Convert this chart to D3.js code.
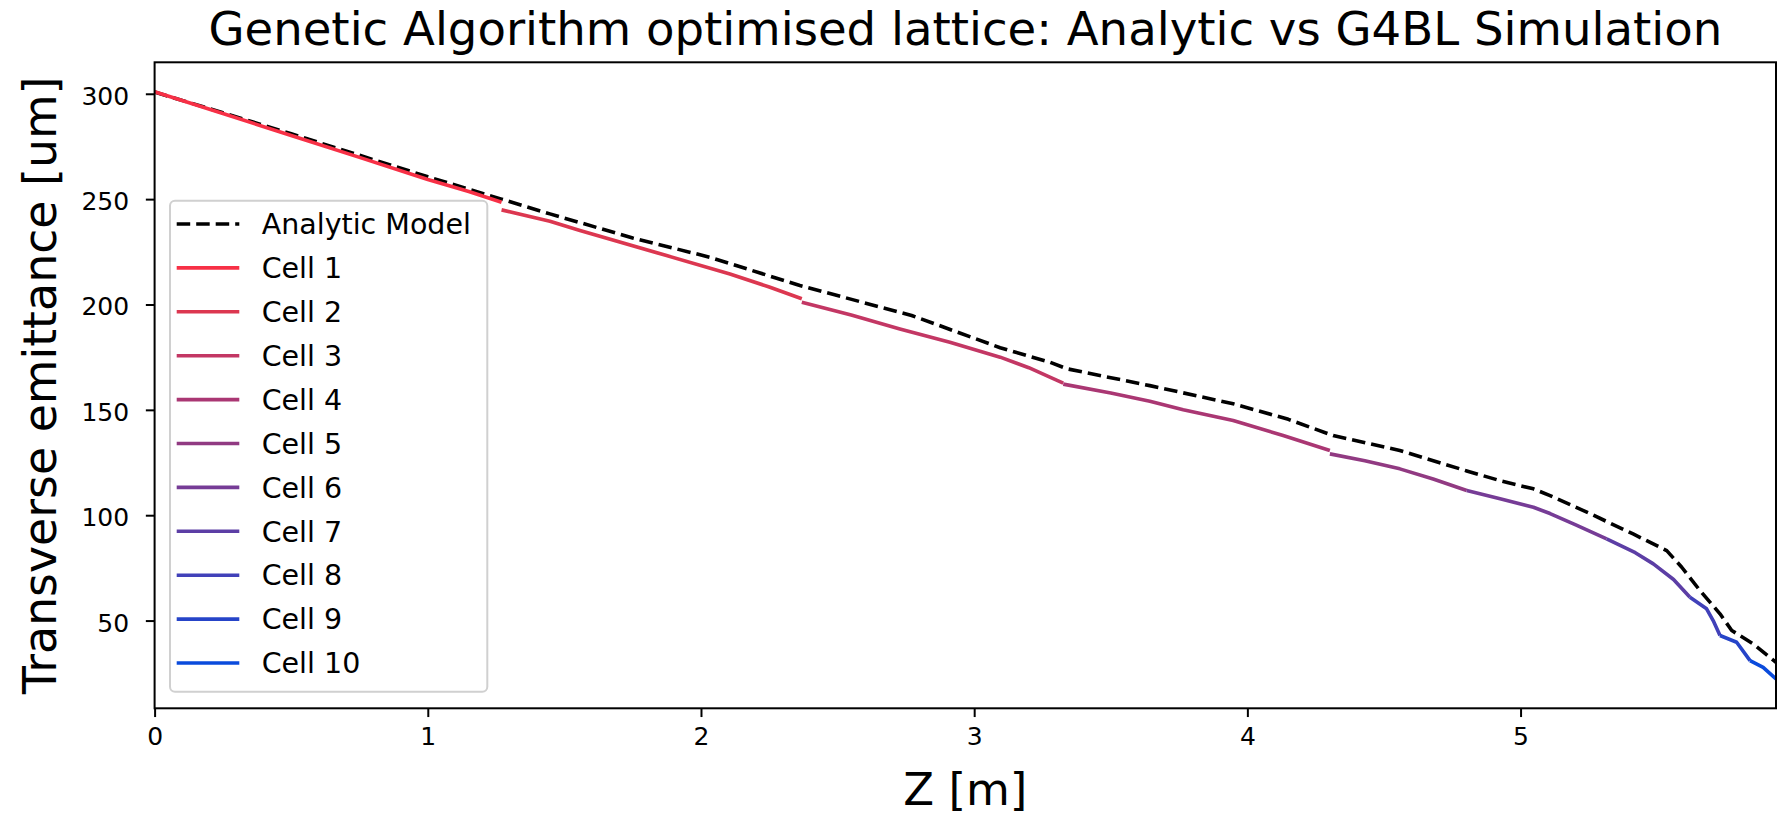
<!DOCTYPE html>
<html>
<head>
<meta charset="utf-8">
<script src="https://cdn.jsdelivr.net/npm/d3@7"></script>
<style>
  html, body { margin: 0; padding: 0; background: #ffffff; }
  svg { display: block; }
  text { font-family: "DejaVu Sans", sans-serif; fill: #000; }
</style>
</head>
<body>
<svg id="chart" width="1779" height="816"></svg>
<script>
// ---------------- data ----------------
const titleText = "Genetic Algorithm optimised lattice: Analytic vs G4BL Simulation";
const xLabel = "Z [m]";
const yLabel = "Transverse emittance [um]";
const xTicks = [0, 1, 2, 3, 4, 5];
const yTicks = [50, 100, 150, 200, 250, 300];
const xMax = 5.935;

const analyticName = "Analytic Model";
const analyticZ = [0, 0.25, 0.5, 0.75, 1.0, 1.27, 1.447, 1.75, 2.033, 2.362, 2.771, 3.095, 3.277, 3.339, 3.643, 3.948, 4.15, 4.314, 4.558, 4.803, 4.925, 5.047, 5.108, 5.25, 5.412, 5.535, 5.59, 5.657, 5.730, 5.773, 5.852, 5.935];
const analyticEm = [300.8, 291.0, 281.0, 270.8, 260.6, 250.0, 243.0, 231.6, 222.4, 209.0, 194.8, 179.5, 172.6, 169.5, 161.5, 152.9, 145.5, 137.8, 130.7, 121.0, 116.4, 112.5, 109.3, 101.0, 91.1, 83.2, 75.3, 64.2, 53.2, 45.3, 38.9, 30.2];

const cellNames = ["Cell 1", "Cell 2", "Cell 3", "Cell 4", "Cell 5", "Cell 6", "Cell 7", "Cell 8", "Cell 9", "Cell 10"];
const cellColors = ["#f73046", "#dc3750", "#c33764", "#aa3773", "#913a82", "#763c96", "#5c3ea5", "#4141b9", "#2644c8", "#0a4bdc"];

const cell1Z = [0, 0.25, 0.5, 0.75, 1.0, 1.15, 1.27];
const cell1Em = [301.0, 290.6, 280.2, 269.8, 259.3, 253.6, 248.5];
const cell2Z = [1.27, 1.447, 1.557, 1.874, 2.106, 2.25, 2.369];
const cell2Em = [244.9, 239.5, 235.1, 223.2, 214.5, 208.3, 202.7];
const cell3Z = [2.369, 2.55, 2.728, 2.911, 3.095, 3.2, 3.277, 3.326];
const cell3Em = [201.1, 195.0, 188.4, 182.1, 175.0, 170.0, 165.5, 162.7];
const cell4Z = [3.326, 3.5, 3.643, 3.765, 3.948, 4.131, 4.302];
const cell4Em = [162.2, 158.0, 154.1, 150.0, 144.9, 137.8, 130.7];
const cell5Z = [4.302, 4.43, 4.558, 4.68, 4.803];
const cell5Em = [129.1, 125.8, 122.0, 117.2, 111.7];
const cell6Z = [4.803, 4.925, 5.047, 5.108, 5.2, 5.315];
const cell6Em = [111.7, 107.8, 103.8, 100.8, 95.5, 88.8];
const cell7Z = [5.315, 5.42, 5.486, 5.56, 5.620];
const cell7Em = [88.8, 82.2, 76.9, 69.5, 61.1];
const cell8Z = [5.620, 5.681, 5.705, 5.730];
const cell8Em = [61.1, 55.6, 50.0, 42.9];
const cell9Z = [5.730, 5.791, 5.840];
const cell9Em = [42.9, 39.7, 31.0];
const cell10Z = [5.840, 5.888, 5.935];
const cell10Em = [31.0, 27.8, 22.3];

const cellZs = [cell1Z, cell2Z, cell3Z, cell4Z, cell5Z, cell6Z, cell7Z, cell8Z, cell9Z, cell10Z];
const cellEms = [cell1Em, cell2Em, cell3Em, cell4Em, cell5Em, cell6Em, cell7Em, cell8Em, cell9Em, cell10Em];

// ---------------- layout ----------------
const plot = { left: 154.6, right: 1776, top: 62.3, bottom: 708.3 };
const svg = d3.select("#chart");

const allEm = analyticEm.concat(...cellEms);
const yMin = d3.min(allEm), yMaxD = d3.max(allEm);
const pad = (yMaxD - yMin) * 0.05;

const x = d3.scaleLinear().domain([0, xMax]).range([plot.left, plot.right]);
const y = d3.scaleLinear().domain([yMin - pad, yMaxD + pad]).range([plot.bottom, plot.top]);

svg.append("defs").append("clipPath").attr("id", "clip")
  .append("rect")
  .attr("x", plot.left).attr("y", plot.top)
  .attr("width", plot.right - plot.left).attr("height", plot.bottom - plot.top);

const line = d3.line().x(d => x(d[0])).y(d => y(d[1]));

const lines = svg.append("g").attr("clip-path", "url(#clip)");

// analytic dashed
lines.append("path")
  .datum(analyticZ.map((z, i) => [z, analyticEm[i]]))
  .attr("d", line)
  .attr("fill", "none")
  .attr("stroke", "#000")
  .attr("stroke-width", 3.6)
  .attr("stroke-dasharray", "13.5,6")
  .attr("stroke-linejoin", "round");

// cells
cellZs.forEach((zs, k) => {
  lines.append("path")
    .datum(zs.map((z, i) => [z, cellEms[k][i]]))
    .attr("d", line)
    .attr("fill", "none")
    .attr("stroke", cellColors[k])
    .attr("stroke-width", 3.6)
    .attr("stroke-linejoin", "round")
    .attr("stroke-linecap", "butt");
});

// axes
const xAxis = d3.axisBottom(x).tickValues(xTicks).tickFormat(d3.format("d")).tickSize(8.75).tickPadding(8);
const yAxis = d3.axisLeft(y).tickValues(yTicks).tickFormat(d3.format("d")).tickSize(8.75).tickPadding(8);

const gx = svg.append("g").attr("transform", `translate(0,${plot.bottom})`).call(xAxis);
const gy = svg.append("g").attr("transform", `translate(${plot.left},0)`).call(yAxis);

[gx, gy].forEach(g => {
  g.select(".domain").remove();
  g.selectAll(".tick line").attr("stroke", "#000").attr("stroke-width", 2);
  g.selectAll(".tick text").style("font-family", "DejaVu Sans").style("font-size", "25px").attr("fill", "#000");
});
gy.selectAll(".tick text").attr("x", -25.5).attr("dy", "0.42em");
gx.selectAll(".tick text").attr("y", 19).attr("dy", "0.71em");

// frame
svg.append("rect")
  .attr("x", plot.left).attr("y", plot.top)
  .attr("width", plot.right - plot.left).attr("height", plot.bottom - plot.top)
  .attr("fill", "none").attr("stroke", "#000").attr("stroke-width", 2);

// title & labels
svg.append("text")
  .attr("x", (plot.left + plot.right) / 2).attr("y", 45)
  .attr("text-anchor", "middle")
  .style("font-size", "46.6px")
  .text(titleText);

svg.append("text")
  .attr("x", (plot.left + plot.right) / 2).attr("y", 805)
  .attr("text-anchor", "middle")
  .style("font-size", "45px")
  .text(xLabel);

svg.append("text")
  .attr("transform", `translate(56,${(plot.top + plot.bottom) / 2}) rotate(-90)`)
  .attr("text-anchor", "middle")
  .style("font-size", "45.8px")
  .text(yLabel);

// legend
const legend = svg.append("g");
legend.append("rect")
  .attr("x", 170).attr("y", 200.7)
  .attr("width", 317.3).attr("height", 491)
  .attr("rx", 5).attr("ry", 5)
  .attr("fill", "rgba(255,255,255,0.8)")
  .attr("stroke", "#d0d0d0").attr("stroke-width", 2);

const legendItems = [{ name: analyticName, color: "#000", dash: "13.5,6" }]
  .concat(cellNames.map((n, i) => ({ name: n, color: cellColors[i], dash: null })));

const rowY0 = 224, rowStep = 43.9;
legendItems.forEach((it, i) => {
  const cy = rowY0 + i * rowStep;
  const l = legend.append("line")
    .attr("x1", 176.7).attr("x2", 239.3)
    .attr("y1", cy).attr("y2", cy)
    .attr("stroke", it.color).attr("stroke-width", 3.6);
  if (it.dash) l.attr("stroke-dasharray", it.dash);
  legend.append("text")
    .attr("x", 261.7).attr("y", cy)
    .attr("dy", "0.36em")
    .style("font-size", "28.5px")
    .text(it.name);
});
</script>
</body>
</html>
